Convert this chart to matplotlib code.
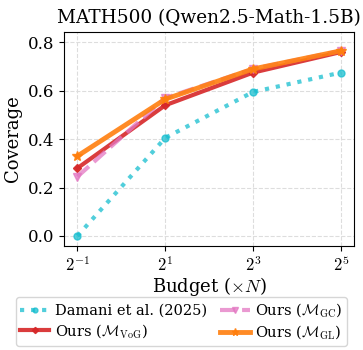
import matplotlib
matplotlib.use("Agg")
import matplotlib.pyplot as plt

plt.rcParams["font.family"] = "DejaVu Serif"
plt.rcParams["mathtext.fontset"] = "cm"

budget = [0.5, 2, 8, 32]
damani = [0.0, 0.405, 0.595, 0.675]
ours_vog = [0.28, 0.54, 0.675, 0.76]
ours_gc = [0.245, 0.57, 0.69, 0.765]
ours_gl = [0.33, 0.565, 0.69, 0.765]

fig, ax = plt.subplots(figsize=(3.63, 3.5), dpi=100)

ax.plot(budget, damani, color="#17becf", ls=":", lw=3, marker="o", ms=5,
        alpha=0.75, label="Damani et al. (2025)")
ax.plot(budget, ours_vog, color="#d62728", ls="-", lw=3, marker="D", ms=4.5,
        alpha=0.9, label=r"Ours ($\mathcal{M}_{\mathrm{VoG}}$)")
ax.plot(budget, ours_gc, color="#e377c2", ls="--", lw=3, marker="v", ms=5.5,
        alpha=0.75, label=r"Ours ($\mathcal{M}_{\mathrm{GC}}$)")
ax.plot(budget, ours_gl, color="#ff7f0e", ls="-", lw=3.5, marker="*", ms=7.5,
        alpha=0.9, label=r"Ours ($\mathcal{M}_{\mathrm{GL}}$)")

ax.set_xscale("log", base=2)
ax.set_xticks([0.5, 2, 8, 32])
ax.set_xticklabels([r"$2^{-1}$", r"$2^{1}$", r"$2^{3}$", r"$2^{5}$"])
ax.minorticks_off()
ax.set_yticks([0.0, 0.2, 0.4, 0.6, 0.8])
ax.set_ylim(-0.042, 0.845)
ax.tick_params(labelsize=12)
ax.grid(True, ls="--", color="#dddddd", lw=0.8)

ax.set_title("MATH500 (Qwen2.5-Math-1.5B)", fontsize=13.3)
ax.set_xlabel(r"Budget ($\times N$)", fontsize=13, labelpad=0)
ax.set_ylabel("Coverage", fontsize=13)

fig.legend(*ax.get_legend_handles_labels(), loc="upper center",
           bbox_to_anchor=(0.5, 0.152), borderaxespad=0, ncol=2,
           fontsize=10.5, handlelength=2.0, columnspacing=0.9,
           handletextpad=0.4, borderpad=0.3, labelspacing=0.3,
           markerscale=0.7)

fig.subplots_adjust(left=0.177, right=0.975, top=0.91, bottom=0.297)
fig.savefig("out.png", dpi=100)
